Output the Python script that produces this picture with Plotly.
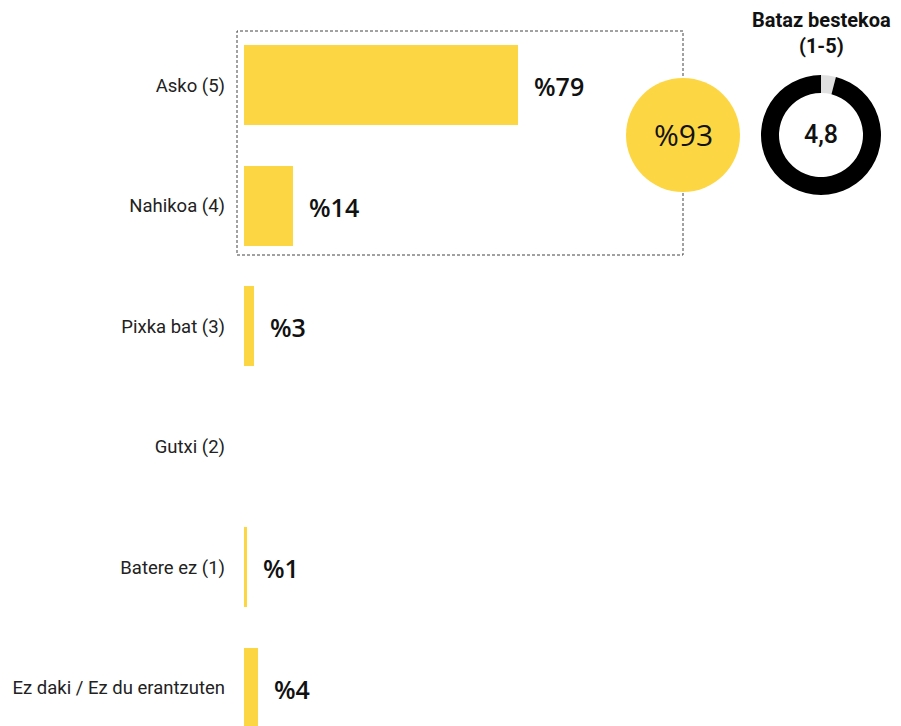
import plotly.graph_objects as go

categories = ["Asko (5)", "Nahikoa (4)", "Pixka bat (3)", "Gutxi (2)", "Batere ez (1)", "Ez daki / Ez du erantzuten"]
values = [79, 14, 3, 0, 1, 4]
value_labels = ["%79", "%14", "%3", "", "%1", "%4"]
top2_total = 93
top2_label = "%93"
mean_value = 4.8
scale_max = 5
mean_label = "4,8"
mean_title = "Bataz bestekoa<br>(1-5)"

YELLOW = "#FDD643"
W, H = 901, 726
OFF = 8                      # page body margin
L, T = 244 - OFF, 25 - OFF
PX_PER_UNIT = 3.47
ROW_PX = 120.5
plot_w = W - L
plot_h = H - T


def px_x(sx):
    return (sx - OFF - L) / plot_w


def px_y(sy):
    return 1 - (sy - OFF - T) / plot_h


fig = go.Figure()
fig.add_trace(go.Bar(
    y=categories, x=values, orientation="h",
    marker=dict(color=YELLOW, line=dict(width=0)),
    width=0.66, hoverinfo="skip", showlegend=False,
))

for c, v, lab in zip(categories, values, value_labels):
    if lab:
        fig.add_annotation(x=v, y=c, text=lab, showarrow=False, xanchor="left",
                           xshift=14, yshift=-1,
                           font=dict(family="Open Sans", size=25, color="#111", weight=600))

# big yellow circle (share of top two answers)
cx, cy, r = 683, 135, 57
fig.add_trace(go.Pie(
    values=[top2_total], labels=["top2"], marker=dict(colors=[YELLOW], line=dict(width=0)),
    textinfo="none", hoverinfo="skip", showlegend=False, sort=False,
    domain=dict(x=[px_x(cx - r), px_x(cx + r)], y=[px_y(cy + r), px_y(cy - r)]),
))
fig.add_annotation(x=px_x(cx), y=px_y(cy), xref="paper", yref="paper", text=top2_label,
                   xanchor="center", yanchor="middle",
                   showarrow=False, font=dict(family="Open Sans", size=30, color="#111"))

# donut for the average
dx, dy, dr = 821, 135, 60
fig.add_trace(go.Pie(
    values=[scale_max - mean_value, mean_value], labels=["rest", "mean"],
    marker=dict(colors=["#E0E0E0", "#000000"], line=dict(width=0)),
    hole=0.7, sort=False, direction="counterclockwise", rotation=0,
    textinfo="none", hoverinfo="skip", showlegend=False,
    domain=dict(x=[px_x(dx - dr), px_x(dx + dr)], y=[px_y(dy + dr), px_y(dy - dr)]),
))
fig.add_annotation(x=px_x(dx), y=px_y(dy), xref="paper", yref="paper", text=mean_label,
                   xanchor="center", yanchor="middle",
                   showarrow=False, font=dict(family="Roboto", size=25, color="#111", weight=500))
fig.add_annotation(x=px_x(dx), y=px_y(33), xref="paper", yref="paper",
                   text="<b>" + mean_title.replace("<br>", "</b><br><b>") + "</b>",
                   xanchor="center", yanchor="middle",
                   showarrow=False, font=dict(family="Roboto", size=20, color="#111"))

# dotted box around the top two rows
fig.add_shape(type="rect", xref="paper", yref="paper",
              x0=px_x(237), x1=px_x(683), y0=px_y(255), y1=px_y(31),
              line=dict(color="#444", width=1, dash="3px,2px"), layer="below")

fig.update_layout(
    width=W, height=H,
    margin=dict(l=L, r=0, t=T, b=0, autoexpand=False),
    paper_bgcolor="white", plot_bgcolor="white",
    bargap=0,
    xaxis=dict(range=[0, plot_w / PX_PER_UNIT], visible=False, fixedrange=True),
    yaxis=dict(categoryorder="array", categoryarray=categories,
               range=[-0.5 + plot_h / ROW_PX, -0.5],
               showgrid=False, zeroline=False, showline=False, ticks="",
               ticklabelstandoff=18,
               tickfont=dict(family="Roboto", size=18.5, color="#222"), fixedrange=True),
    font=dict(family="Roboto"),
)

fig.write_html("out.html")
